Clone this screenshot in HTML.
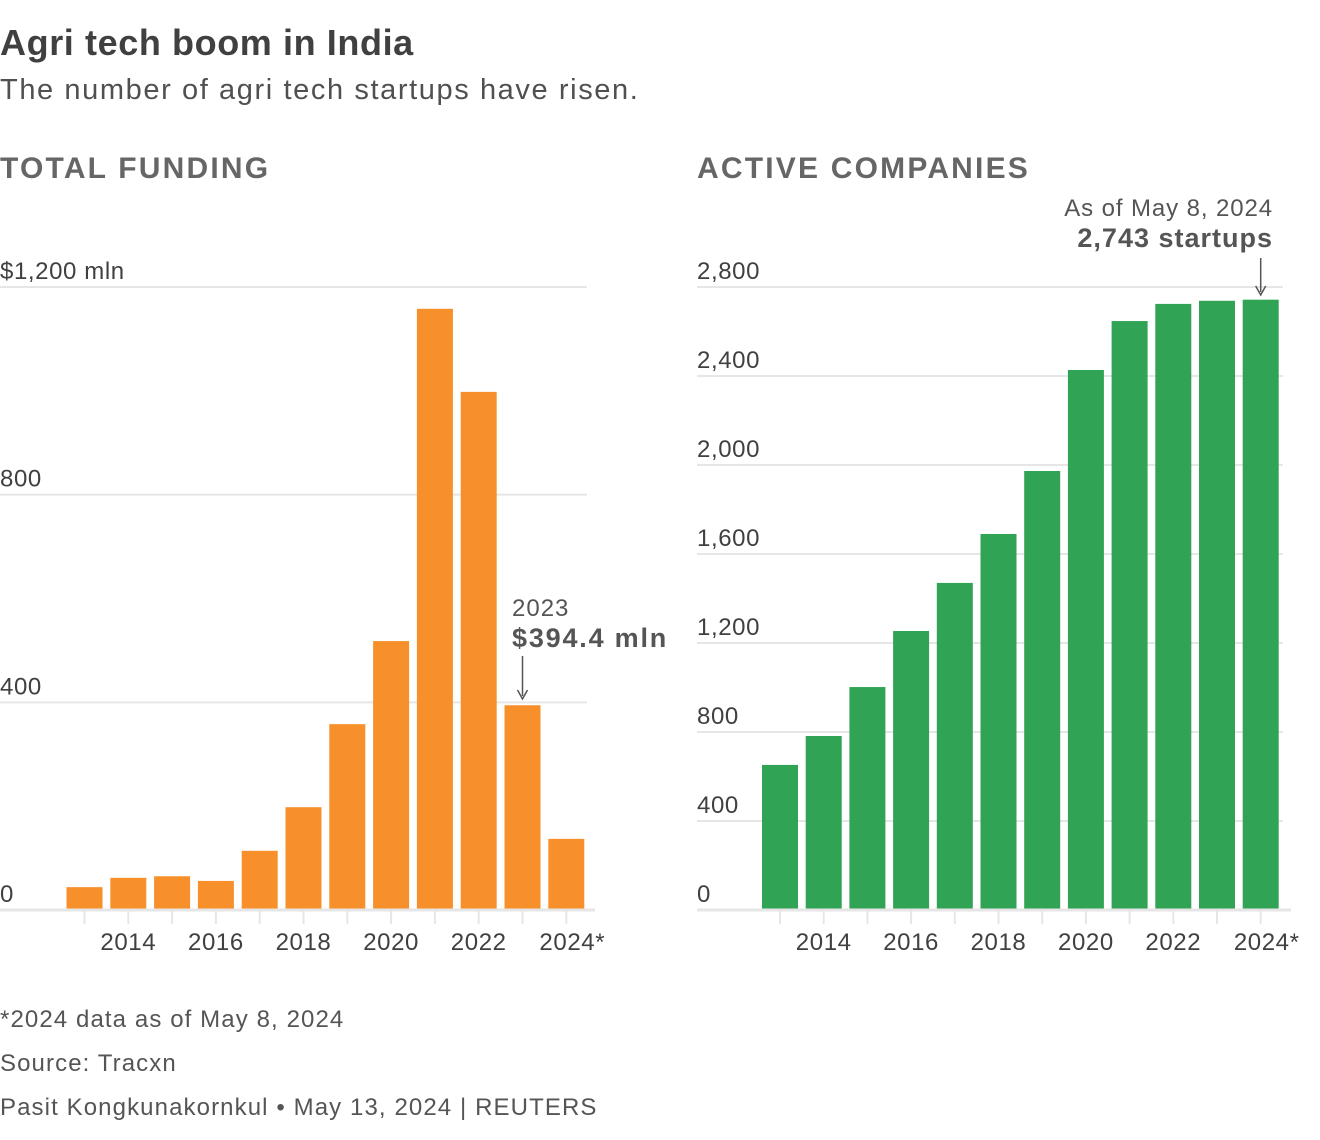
<!DOCTYPE html>
<html><head><meta charset="utf-8"><style>
body{margin:0;background:#fff;font-family:"Liberation Sans",sans-serif;color:#404040}
#wrap{position:relative;width:1320px;height:1140px;overflow:hidden}
.t{position:absolute;white-space:nowrap}
</style></head><body>
<div id="wrap">
<div class="t" style="left:0;top:22px;font-size:36px;font-weight:bold;color:#404040;letter-spacing:0.6px">Agri tech boom in India</div>
<div class="t" style="left:0;top:74px;font-size:29px;color:#505050;letter-spacing:1.6px">The number of agri tech startups have risen.</div>
<div class="t" style="left:0;top:152px;font-size:30px;font-weight:bold;color:#666;letter-spacing:2.2px">TOTAL FUNDING</div>
<div class="t" style="left:697px;top:152px;font-size:30px;font-weight:bold;color:#666;letter-spacing:2.2px">ACTIVE COMPANIES</div>
<svg id="svg" width="1320" height="1140" style="position:absolute;left:0;top:0"></svg>
<div class="t" style="left:0;top:1006px;font-size:24px;color:#555;letter-spacing:1.1px">*2024 data as of May 8, 2024</div>
<div class="t" style="left:0;top:1050px;font-size:24px;color:#555;letter-spacing:1.1px">Source: Tracxn</div>
<div class="t" style="left:0;top:1094px;font-size:24px;color:#555;letter-spacing:1.1px">Pasit Kongkunakornkul • May 13, 2024 | REUTERS</div>
</div>
<script>
const years=[2013,2014,2015,2016,2017,2018,2019,2020,2021,2022,2023,2024];
const xLabels=["2014","2016","2018","2020","2022","2024*"];
const fundingValues=[44,62,65,56,114,198,358,518,1158,998,394.4,137];
const fundingTicks=[0,400,800,1200];
const fundingTickLabels=["0","400","800","$1,200 mln"];
const companyValues=[652,782,1002,1254,1470,1690,1973,2427,2647,2724,2738,2743];
const companyTicks=[0,400,800,1200,1600,2000,2400,2800];
const companyTickLabels=["0","400","800","1,200","1,600","2,000","2,400","2,800"];
const NS="http://www.w3.org/2000/svg";
const svg=document.getElementById('svg');
function mk(tag,attrs,name,text){const e=document.createElementNS(NS,tag);for(const k in attrs)e.setAttribute(k,attrs[k]);


if(text!==undefined)e.textContent=text;svg.appendChild(e);return e;}
function panel(o){
 const base=910,top=287;
 const y=v=>base-(v/o.max)*(base-top);
 const x=yr=>o.x0+(yr-years[0])*o.step;
 o.ticks.forEach((t,i)=>{
  if(t>0)mk('line',{x1:o.gx0,x2:o.gx1,y1:y(t),y2:y(t),stroke:'#e6e6e6','stroke-width':2},o.id+'-gridline');
  mk('text',{x:o.gx0,y:y(t)-8,'font-size':24,fill:'#404040','font-family':'Liberation Sans','letter-spacing':0.6},o.id+'-y-tick-label',o.tickLabels[i]);
 });
 years.forEach((yr,i)=>{
  mk('line',{x1:x(yr),x2:x(yr),y1:base,y2:base+14,stroke:'#e6e6e6','stroke-width':2},o.id+'-x-tick');
  mk('rect',{x:x(yr)-18,y:y(o.vals[i]),width:36,height:base-y(o.vals[i]),fill:o.color},o.id+'-bar-'+yr);
 });
 mk('line',{x1:o.gx0,x2:o.gx1+8,y1:base,y2:base,stroke:'#e6e6e6','stroke-width':3},o.id+'-baseline');
 xLabels.forEach((l,i)=>{
  const yr=2014+2*i;
  mk('text',{x:x(yr),y:950,'font-size':24,fill:'#404040','text-anchor':'middle','font-family':'Liberation Sans',dx:l.endsWith('*')?6:0,'letter-spacing':0.6},o.id+'-x-tick-label',l);
 });
 return {x,y};
}
const L=panel({id:'funding',x0:84.5,step:43.8,max:1200,gx0:0,gx1:587,ticks:fundingTicks,tickLabels:fundingTickLabels,vals:fundingValues,color:'#f7902a'});
const R=panel({id:'companies',x0:780,step:43.7,max:2800,gx0:697,gx1:1283,ticks:companyTicks,tickLabels:companyTickLabels,vals:companyValues,color:'#30a354'});
const ax=L.x(2023);
mk('text',{x:512,y:616,'font-size':24,fill:'#555','font-family':'Liberation Sans','letter-spacing':1},'funding-annotation-year','2023');
mk('text',{x:512,y:647,'font-size':27,'font-weight':'bold',fill:'#555','font-family':'Liberation Sans','letter-spacing':1.8},'funding-annotation-value','$'+fundingValues[10]+' mln');
mk('line',{x1:ax,x2:ax,y1:656,y2:696,stroke:'#555','stroke-width':1.5},'funding-annotation-arrow');
mk('path',{d:`M${ax-5} ${690}L${ax} ${699}L${ax+5} ${690}`,fill:'none',stroke:'#555','stroke-width':1.5},'funding-annotation-arrowhead');
const bx=R.x(2024);
mk('text',{x:1273,y:216,'font-size':24,fill:'#555','text-anchor':'end','font-family':'Liberation Sans','letter-spacing':0.9},'companies-annotation-date','As of May 8, 2024');
mk('text',{x:1273,y:247,'font-size':27,'font-weight':'bold',fill:'#555','text-anchor':'end','font-family':'Liberation Sans','letter-spacing':1},'companies-annotation-value','2,743 startups');
mk('line',{x1:bx,x2:bx,y1:258,y2:292,stroke:'#555','stroke-width':1.5},'companies-annotation-arrow');
mk('path',{d:`M${bx-5} 286L${bx} 295L${bx+5} 286`,fill:'none',stroke:'#555','stroke-width':1.5},'companies-annotation-arrowhead');
</script>
</body></html>
